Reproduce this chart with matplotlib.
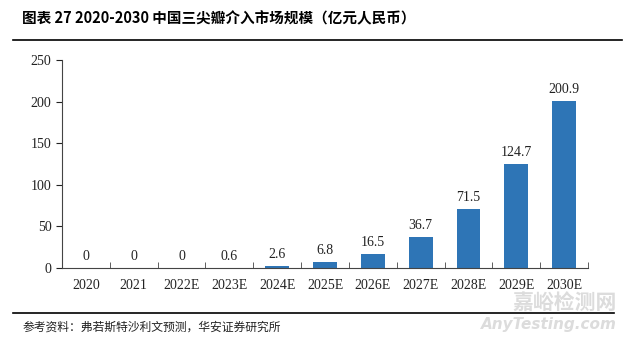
import matplotlib
matplotlib.use('Agg')
import matplotlib.pyplot as plt
from matplotlib.lines import Line2D

plt.rcParams['font.family'] = ['Liberation Serif', 'Noto Sans CJK SC', 'DejaVu Sans']

categories = ['2020', '2021', '2022E', '2023E', '2024E', '2025E', '2026E',
              '2027E', '2028E', '2029E', '2030E']
values = [0, 0, 0, 0.6, 2.6, 6.8, 16.5, 36.7, 71.5, 124.7, 200.9]
labels = ['0', '0', '0', '0.6', '2.6', '6.8', '16.5', '36.7', '71.5', '124.7', '200.9']

fig = plt.figure(figsize=(6.3, 3.37), dpi=100)
ax = fig.add_axes([0.0984, 0.2047, 0.835, 0.6173])

x = list(range(len(categories)))
ax.bar(x, values, width=0.5, color='#2E75B6', zorder=2)
for xi, v, lab in zip(x, values, labels):
    ax.text(xi, v + 6, lab, ha='center', va='bottom', fontsize=10, color='#222222')

ax.set_xlim(-0.5, len(categories) - 0.5)
ax.set_ylim(0, 250)
ax.set_yticks([0, 50, 100, 150, 200, 250])
ax.tick_params(axis='y', labelsize=10, length=4, direction='out', colors='#222222')
ax.set_xticks(x)
ax.set_xticklabels(categories, fontsize=10, color='#222222')
ax.tick_params(axis='x', length=0, pad=8)
ax.set_xticks([i + 0.5 for i in x], minor=True)
ax.tick_params(axis='x', which='minor', length=4, direction='in', color='#444444')
for s in ['top', 'right']:
    ax.spines[s].set_visible(False)
ax.spines['left'].set_color('#444444')
ax.spines['bottom'].set_color('#444444')

fig.text(0.035, 0.945, '图表 27 2020-2030 中国三尖瓣介入市场规模（亿元人民币）',
         fontsize=10.5, fontweight='bold', family=['Noto Sans CJK SC'], va='center')
fig.add_artist(Line2D([0.02, 0.987], [0.882, 0.882], color='black', lw=1.2))
fig.add_artist(Line2D([0.02, 0.975], [0.072, 0.072], color='black', lw=1.2))
fig.text(0.035, 0.03, '参考资料：弗若斯特沙利文预测，华安证券研究所',
         fontsize=8.5, family=['Noto Sans CJK SC'], va='center', color='#222222')

# watermark
fig.text(0.979, 0.103, '嘉峪检测网', fontsize=15, color='#dcdcdc', ha='right', va='center',
         family=['Noto Sans CJK SC'], fontweight='bold', zorder=0)
fig.text(0.979, 0.036, 'AnyTesting.com', fontsize=11, color='#dcdcdc', ha='right', va='center',
         family=['DejaVu Sans'], style='italic', fontweight='bold', zorder=0)

fig.savefig('out.png', dpi=100)
